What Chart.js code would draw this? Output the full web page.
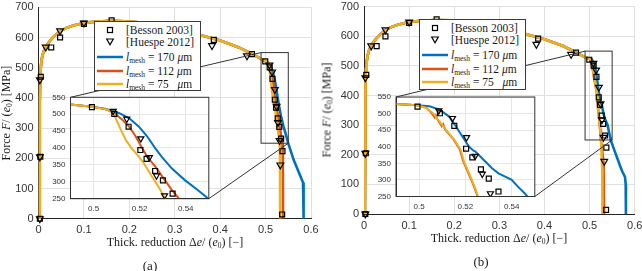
<!DOCTYPE html>
<html><head><meta charset="utf-8">
<script src="https://cdn.jsdelivr.net/npm/chart.js@4.4.1/dist/chart.umd.min.js"></script>
<style>
body{margin:0;background:#fff;width:642px;height:271px;overflow:hidden;position:relative;font-family:'Liberation Serif','Times New Roman',serif;color:#1a1a1a;}
canvas{position:absolute;}
.leg{position:absolute;background:#fff;border:1px solid #3a3a3a;box-sizing:border-box;z-index:5;font-size:11.5px;}
.row{position:absolute;left:0;right:0;height:0;}
.row svg{position:absolute;left:0;top:-5px;}
.row .txt{position:absolute;left:31px;top:-7px;white-space:nowrap;line-height:14px;}
sub{font-size:7.5px;vertical-align:-2px;line-height:0;}
.ylab{position:absolute;transform:translate(-50%,-50%) rotate(-90deg);white-space:nowrap;font-size:12px;z-index:6;}
.xlab{position:absolute;transform:translate(-50%,-50%);white-space:nowrap;font-size:12px;z-index:6;}
.cap{position:absolute;transform:translate(-50%,-50%);font-size:13px;z-index:6;}
</style>
</head><body>
<canvas id="mA" width="320" height="240" style="left:0;top:0;width:320px;height:240px;z-index:1"></canvas>
<canvas id="iA" width="170" height="125" style="left:44px;top:90px;width:170px;height:125px;z-index:2"></canvas>
<canvas id="mB" width="322" height="240" style="left:320px;top:0;width:322px;height:240px;z-index:1"></canvas>
<canvas id="iB" width="170" height="125" style="left:370px;top:88px;width:170px;height:125px;z-index:2"></canvas>

<div class="leg" style="left:94px;top:21px;width:107px;height:70px">
 <div class="row" style="top:8px"><svg width="30" height="10"><rect x="12.5" y="2.5" width="5" height="5" fill="none" stroke="#000" stroke-width="1.2"/></svg><span class="txt">[Besson 2003]</span></div>
 <div class="row" style="top:20px"><svg width="30" height="10"><polygon points="11.7,2 18.3,2 15,7.8" fill="none" stroke="#000" stroke-width="1.2"/></svg><span class="txt">[Huespe 2012]</span></div>
 <div class="row" style="top:35px"><svg width="30" height="10"><line x1="2" y1="5" x2="28" y2="5" stroke="#0072BD" stroke-width="2.5"/></svg><span class="txt"><i>l</i><sub>mesh</sub> = 170 <i>μ</i>m</span></div>
 <div class="row" style="top:48.5px"><svg width="30" height="10"><line x1="2" y1="5" x2="28" y2="5" stroke="#D95319" stroke-width="2.5"/></svg><span class="txt"><i>l</i><sub>mesh</sub> = 112 <i>μ</i>m</span></div>
 <div class="row" style="top:62px"><svg width="30" height="10"><line x1="2" y1="5" x2="28" y2="5" stroke="#EDB120" stroke-width="2.5"/></svg><span class="txt"><i>l</i><sub>mesh</sub> = 75&nbsp;&nbsp; <i>μ</i>m</span></div>
</div>
<div class="leg" style="left:419px;top:19px;width:107px;height:71px">
 <div class="row" style="top:8px"><svg width="30" height="10"><rect x="12.5" y="2.5" width="5" height="5" fill="none" stroke="#000" stroke-width="1.2"/></svg><span class="txt">[Besson 2003]</span></div>
 <div class="row" style="top:20px"><svg width="30" height="10"><polygon points="11.7,2 18.3,2 15,7.8" fill="none" stroke="#000" stroke-width="1.2"/></svg><span class="txt">[Huespe 2012]</span></div>
 <div class="row" style="top:35px"><svg width="30" height="10"><line x1="2" y1="5" x2="28" y2="5" stroke="#0072BD" stroke-width="2.5"/></svg><span class="txt"><i>l</i><sub>mesh</sub> = 170 <i>μ</i>m</span></div>
 <div class="row" style="top:48.5px"><svg width="30" height="10"><line x1="2" y1="5" x2="28" y2="5" stroke="#D95319" stroke-width="2.5"/></svg><span class="txt"><i>l</i><sub>mesh</sub> = 112 <i>μ</i>m</span></div>
 <div class="row" style="top:62px"><svg width="30" height="10"><line x1="2" y1="5" x2="28" y2="5" stroke="#EDB120" stroke-width="2.5"/></svg><span class="txt"><i>l</i><sub>mesh</sub> = 75&nbsp;&nbsp; <i>μ</i>m</span></div>
</div>

<div class="ylab" style="left:6px;top:113px">Force <i>F</i>/ (<i>e</i><sub>0</sub>) [MPa]</div>
<div class="ylab" style="left:327px;top:110px">Force <i>F</i>/ (<i>e</i><sub>0</sub>) [MPa]</div>
<div class="xlab" style="left:175px;top:242px">Thick. reduction Δ<i>e</i>/ (<i>e</i><sub>0</sub>) [−]</div>
<div class="xlab" style="left:499px;top:238px">Thick. reduction Δ<i>e</i>/ (<i>e</i><sub>0</sub>) [−]</div>
<div class="cap" style="left:150px;top:266px">(a)</div>
<div class="cap" style="left:481px;top:262px">(b)</div>

<script>
// ---- tick labels / axis ranges ----
const mainXTicks = [0, 0.1, 0.2, 0.3, 0.4, 0.5, 0.6];
const mainYTicks = [0, 100, 200, 300, 400, 500, 600, 700];
const insetXTicks = [0.5, 0.52, 0.54];
const insetYTicks = [250, 300, 350, 400, 450, 500, 550];
const zoomX = [0.49, 0.55];
const zoomY = [250, 550];

// ---- shared (pre-localisation) simulated curve ----
const baseX = [0.002, 0.0025, 0.003, 0.0035, 0.0045, 0.006, 0.008, 0.011, 0.015, 0.02, 0.027, 0.035, 0.047, 0.06, 0.075, 0.09, 0.11, 0.13, 0.16, 0.19, 0.22, 0.26, 0.3, 0.35, 0.4, 0.44, 0.47, 0.49];
const baseF = [0, 200, 380, 450, 490, 515, 535, 552, 566, 578, 592, 605, 620, 631, 639, 645, 650, 653, 655, 654, 650, 641, 629, 611, 590, 568, 546, 529];

// ---- panel (a) tails ----
const a170X = [0.4993, 0.505, 0.5112, 0.5155, 0.5197, 0.5233, 0.5268, 0.5296, 0.5339, 0.5396, 0.5452, 0.5496, 0.562, 0.5824, 0.5837];
const a170F = [522, 516, 503, 488, 463, 434, 399, 374, 340, 305, 276, 251, 194, 120, 0];
const a112X = [0.4993, 0.505, 0.509, 0.5126, 0.5155, 0.5183, 0.5211, 0.5233, 0.5268, 0.5304, 0.5339, 0.537, 0.538, 0.5385];
const a112F = [522, 515, 503, 483, 463, 434, 399, 374, 345, 310, 276, 251, 200, 0];
const a75X = [0.4993, 0.505, 0.5084, 0.5119, 0.514, 0.5162, 0.5197, 0.5218, 0.5254, 0.5282, 0.531, 0.5318, 0.532];
const a75F = [522, 515, 507, 453, 424, 402, 374, 355, 315, 285, 251, 200, 0];

// ---- panel (b) tails ----
const b170X = [0.4991, 0.5045, 0.5088, 0.513, 0.5159, 0.5187, 0.5216, 0.5235, 0.5242, 0.5258, 0.5287, 0.5315, 0.5343, 0.5372, 0.54, 0.5428, 0.5457, 0.5468, 0.555, 0.5635, 0.568, 0.5735, 0.5785, 0.58, 0.5805];
const b170F = [525, 522, 512, 491, 461, 431, 400, 388, 386, 375, 355, 335, 320, 310, 300, 279, 259, 250, 215, 180, 160, 140, 125, 100, 0];
const b112X = [0.4991, 0.503, 0.5052, 0.5068, 0.5072, 0.5082, 0.5098, 0.5104, 0.5112, 0.5148, 0.5176, 0.519, 0.5212, 0.5234, 0.5252, 0.531, 0.532];
const b112F = [525, 518, 503, 488, 494, 479, 462, 468, 452, 423, 392, 357, 322, 286, 252, 170, 0];
const b75X = [0.4991, 0.5031, 0.506, 0.5088, 0.5116, 0.5152, 0.518, 0.5194, 0.5216, 0.5237, 0.5255, 0.528, 0.5285];
const b75F = [525, 517, 501, 476, 451, 421, 390, 355, 320, 284, 250, 150, 0];

// ---- experimental data ----
const bessonX = [0.003, 0.005, 0.004, 0.028, 0.0475, 0.1, 0.161, 0.386, 0.47, 0.4993, 0.509, 0.5152, 0.5203, 0.523, 0.5267, 0.5301, 0.5343, 0.5372, 0.5365];
const bessonF = [0, 470, 205, 567, 600, 645, 657, 592, 545, 521, 501, 463, 394, 368, 332, 304, 265, 224, 14];
const huespeX = [0.003, 0.003, 0.003, 0.016, 0.0475, 0.1, 0.382, 0.459, 0.5085, 0.5144, 0.5205, 0.5242, 0.5273, 0.5308, 0.5325];
const huespeF = [0, 205, 460, 568, 622, 648, 573, 539, 509, 486, 428, 372, 318, 259, 178];

const C170 = '#0072BD', C112 = '#D95319', C75 = '#EDB120';

function pts(xs, ys) { return xs.map((x, i) => ({ x: x, y: ys[i] })); }
function curve(tx, tf) { return pts(baseX.concat(tx), baseF.concat(tf)); }

const seriesA = { s170: curve(a170X, a170F), s112: curve(a112X, a112F), s75: curve(a75X, a75F) };
const seriesB = { s170: curve(b170X, b170F), s112: curve(b112X, b112F), s75: curve(b75X, b75F) };

Chart.defaults.font.family = "'Liberation Sans', Arial, Helvetica, sans-serif";
Chart.defaults.color = '#333';

function datasets(s, main) {
  const lw = main ? 2.6 : 2;
  const mk = { borderColor: '#000', backgroundColor: 'rgba(0,0,0,0)', borderWidth: 1.2, showLine: false, clip: main ? false : 0 };
  const ln = { showLine: true, pointRadius: 0, tension: 0, borderWidth: lw, fill: false };
  if (!main) ln.clip = 0;
  return [
    Object.assign({ label: 'Besson 2003', data: pts(bessonX, bessonF), pointStyle: 'rect', pointRadius: 3.5 }, mk),
    Object.assign({ label: 'Huespe 2012', data: pts(huespeX, huespeF), pointStyle: 'triangle', pointRotation: 180, pointRadius: main ? 3.9 : 3.5 }, mk),
    Object.assign({ label: '75', data: s.s75, borderColor: C75 }, ln),
    Object.assign({ label: '112', data: s.s112, borderColor: C112 }, ln),
    Object.assign({ label: '170', data: s.s170, borderColor: C170 }, ln)
  ];
}

function scales(xr, yr, xt, yt, fs, yW, xH, grid, xpad, ypad) {
  return {
    x: {
      type: 'linear', min: xr[0], max: xr[1],
      afterBuildTicks: s => { s.ticks = xt.map(v => ({ value: v })); },
      ticks: { font: { size: fs }, padding: xpad, maxRotation: 0, autoSkip: false, callback: v => String(v) },
      grid: { color: grid, drawTicks: false },
      border: { color: '#262626', width: 1 },
      afterFit: s => { s.height = xH; s.paddingLeft = 0; s.paddingRight = 0; }
    },
    y: {
      type: 'linear', min: yr[0], max: yr[1],
      afterBuildTicks: s => { s.ticks = yt.map(v => ({ value: v })); },
      ticks: { font: { size: fs }, padding: ypad, autoSkip: false, callback: v => String(v) },
      grid: { color: grid, drawTicks: false },
      border: { color: '#262626', width: 1 },
      afterFit: s => { s.width = yW; s.paddingTop = 0; s.paddingBottom = 0; }
    }
  };
}

const insetPlugin = {
  id: 'insetBox',
  beforeDraw(chart) {
    const a = chart.chartArea, ctx = chart.ctx;
    ctx.save(); ctx.fillStyle = '#fff'; ctx.fillRect(a.left, a.top, a.right - a.left, a.bottom - a.top); ctx.restore();
  },
  afterDraw(chart) {
    const a = chart.chartArea, ctx = chart.ctx;
    ctx.save(); ctx.strokeStyle = '#333'; ctx.lineWidth = 1;
    ctx.strokeRect(a.left, a.top, a.right - a.left, a.bottom - a.top); ctx.restore();
  }
};

function makeInset(id, L) {
  return new Chart(document.getElementById(id), {
    type: 'scatter',
    data: { datasets: datasets(L.series, false) },
    options: {
      responsive: false, animation: false, events: [],
      plugins: { legend: { display: false }, tooltip: { enabled: false } },
      layout: { padding: { left: 0, bottom: 0, top: L.area.t - L.top, right: L.left + L.w - L.area.r } },
      scales: scales(zoomX, zoomY, insetXTicks, insetYTicks, 8, L.area.l - L.left, L.top + L.h - L.area.b, '#e6e6e6', 5, 5)
    },
    plugins: [insetPlugin]
  });
}

function makeMain(id, L, inset, IL) {
  const zoomPlugin = {
    id: 'zoomBox',
    afterDatasetsDraw(chart) {
      const x = chart.scales.x, y = chart.scales.y, ctx = chart.ctx;
      const l = x.getPixelForValue(zoomX[0]), r = x.getPixelForValue(zoomX[1]);
      const t = y.getPixelForValue(zoomY[1]), b = y.getPixelForValue(zoomY[0]);
      const dx = IL.left - L.left, dy = IL.top - L.top, ia = inset.chartArea;
      ctx.save();
      ctx.strokeStyle = '#333'; ctx.lineWidth = 1;
      ctx.strokeRect(l, t, r - l, b - t);
      ctx.beginPath();
      ctx.moveTo(l, t); ctx.lineTo(ia.left + dx, ia.top + dy);
      ctx.moveTo(r, b); ctx.lineTo(ia.right + dx, ia.bottom + dy);
      ctx.stroke();
      ctx.restore();
    }
  };
  return new Chart(document.getElementById(id), {
    type: 'scatter',
    data: { datasets: datasets(L.series, true) },
    options: {
      responsive: false, animation: false, events: [],
      plugins: { legend: { display: false }, tooltip: { enabled: false } },
      layout: { padding: { left: 0, bottom: 0, top: L.area.t - L.top, right: L.left + L.w - L.area.r } },
      scales: scales([mainXTicks[0], mainXTicks[mainXTicks.length - 1]], [mainYTicks[0], mainYTicks[mainYTicks.length - 1]],
        mainXTicks, mainYTicks, 11, L.area.l - L.left, L.top + L.h - L.area.b, '#e0e0e0', 5, 5)
    },
    plugins: [zoomPlugin]
  });
}

const LmA = { left: 0, top: 0, w: 320, h: 240, area: { l: 38.5, t: 7.3, r: 311, b: 218.7 }, series: seriesA };
const LiA = { left: 44, top: 90, w: 170, h: 125, area: { l: 70.5, t: 97.3, r: 210.7, b: 198.7 }, series: seriesA };
const LmB = { left: 320, top: 0, w: 322, h: 240, area: { l: 364, t: 6.7, r: 634.7, b: 214 }, series: seriesB };
const LiB = { left: 370, top: 88, w: 170, h: 125, area: { l: 396, t: 97, r: 536.5, b: 196.5 }, series: seriesB };

const insetA = makeInset('iA', LiA);
makeMain('mA', LmA, insetA, LiA);
const insetB = makeInset('iB', LiB);
makeMain('mB', LmB, insetB, LiB);
</script>
</body></html>
